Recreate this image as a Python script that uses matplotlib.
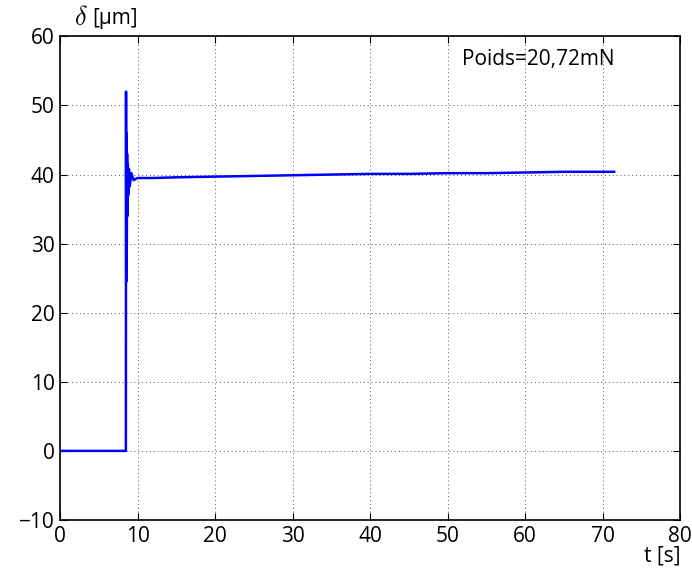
import matplotlib
matplotlib.use('Agg')
import matplotlib.pyplot as plt

# time [s] and displacement [um]
t = [0, 8.45, 8.5, 8.52, 8.55, 8.58, 8.62, 8.66, 8.7, 8.75, 8.8, 8.9, 9.0,
     9.2, 9.5, 10, 12, 15, 20, 25, 30, 35, 40, 45, 50, 55, 60, 65, 71.5]
delta = [0, 0, 0, 52, 24.5, 46, 30, 43, 34, 41.5, 37, 40.8, 38.3,
         40.2, 39.2, 39.5, 39.5, 39.6, 39.7, 39.8, 39.9, 40.0, 40.1, 40.1, 40.2, 40.2, 40.3, 40.4, 40.4]

x_ticks = [0, 10, 20, 30, 40, 50, 60, 70, 80]
y_ticks = [-10, 0, 10, 20, 30, 40, 50, 60]

plt.rcParams['font.family'] = ['Open Sans', 'DejaVu Sans']
plt.rcParams['mathtext.fontset'] = 'cm'

fig = plt.figure(figsize=(6.92, 5.75), dpi=100)
ax = fig.add_axes([0.0867, 0.0957, 0.896, 0.841])
ax.plot(t, delta, color='#0000ff', linewidth=1.8)

ax.set_xlim(0, 80)
ax.set_ylim(-10, 60)
ax.set_xticks(x_ticks)
ax.set_yticks(y_ticks)
ax.set_yticklabels(['\u221210' if v < 0 else str(v) for v in y_ticks])
ax.tick_params(direction='in', labelsize=15, length=5, top=True, right=True, pad=4)
ax.grid(True, linestyle=(0, (1, 3)), color='#555555', linewidth=0.7)
for s in ax.spines.values():
    s.set_linewidth(1.2)

# y label above the axes: big math delta then the unit
ax.text(0.022, 1.037, r'$\delta$', transform=ax.transAxes, fontsize=19,
        ha='left', va='center')
ax.text(0.052, 1.037, '[µm]', transform=ax.transAxes, fontsize=15,
        ha='left', va='center')
ax.text(1.0, -0.075, 't [s]', transform=ax.transAxes, fontsize=15,
        ha='right', va='center')
ax.text(51.9, 56.6, 'Poids=20,72mN', fontsize=15, ha='left', va='center')

fig.savefig('out.png', dpi=100)
